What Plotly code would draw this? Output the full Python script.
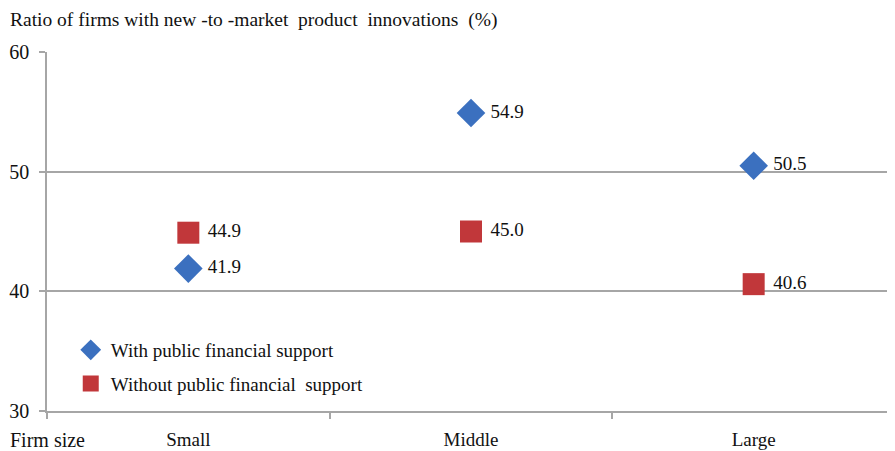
import plotly.graph_objects as go

categories = ["Small", "Middle", "Large"]
with_support = [41.9, 54.9, 50.5]
without_support = [44.9, 45.0, 40.6]
y_ticks = [30, 40, 50, 60]

FONT = "Liberation Serif, Times New Roman, serif"
GRID = "#a6a6a6"
NB = "\u00a0"
xpos = list(range(len(categories)))

fig = go.Figure()
fig.add_trace(go.Scatter(
    x=xpos, y=with_support, mode="markers+text",
    name="With public financial" + NB + "support",
    marker=dict(symbol="diamond", size=22, color="#3b70bf"),
    text=[NB + f"{v:.1f}" for v in with_support], textposition="middle right",
    textfont=dict(family=FONT, size=19, color="#111"),
    legendgroup="a", cliponaxis=False,
))
fig.add_trace(go.Scatter(
    x=xpos, y=without_support, mode="markers+text",
    name="Without public financial" + NB * 2 + "support",
    marker=dict(symbol="square", size=22, color="#c1373a"),
    text=[NB + f"{v:.1f}" for v in without_support], textposition="middle right",
    textfont=dict(family=FONT, size=19, color="#111"),
    legendgroup="b", cliponaxis=False,
))

# page body has an 8px margin, so the figure is sized/offset to compensate
fig.update_layout(
    width=887, height=443,
    margin=dict(l=39, r=0, t=44, b=40),
    paper_bgcolor="white", plot_bgcolor="white",
    font=dict(family=FONT, size=19, color="#111"),
    showlegend=True,
    legend=dict(x=0.028, y=0.223, xanchor="left", yanchor="top",
                bgcolor="rgba(0,0,0,0)", font=dict(family=FONT, size=19),
                traceorder="grouped", tracegroupgap=6, itemsizing="trace"),
    xaxis=dict(
        range=[-0.5, 2.5], tickmode="array", tickvals=xpos, ticktext=categories,
        ticks="", showgrid=False, zeroline=False, automargin=False,
        showline=True, linecolor=GRID, linewidth=1.5,
        ticklabelstandoff=10, tickfont=dict(family=FONT, size=19),
        minor=dict(tickmode="array", tickvals=[-0.5, 0.5, 1.5], ticks="outside",
                   ticklen=6, tickcolor=GRID, tickwidth=1.5, showgrid=False),
    ),
    yaxis=dict(
        range=[30, 60], tickmode="array", tickvals=y_ticks,
        ticks="outside", ticklen=6, tickcolor=GRID, tickwidth=1.5,
        showgrid=True, gridcolor=GRID, gridwidth=1.5, zeroline=False,
        showline=True, linecolor=GRID, linewidth=1.5, automargin=False,
        tickfont=dict(family=FONT, size=20), ticklabelstandoff=6,
    ),
    annotations=[
        dict(text="Ratio of firms" + NB + "with" + NB + "new" + NB + "-to" + NB + "-market"
                  + NB * 2 + "product" + NB * 2 + "innovations" + NB * 2 + "(%)",
             xref="paper", yref="paper", x=-0.046, y=1.0, yshift=32,
             xanchor="left", yanchor="middle", showarrow=False,
             font=dict(family=FONT, size=19.5)),
        dict(text="Firm size", xref="paper", yref="paper", x=-0.046, y=0, yshift=-29,
             xanchor="left", yanchor="middle", showarrow=False,
             font=dict(family=FONT, size=20)),
    ],
)

fig.write_html("out.html")
